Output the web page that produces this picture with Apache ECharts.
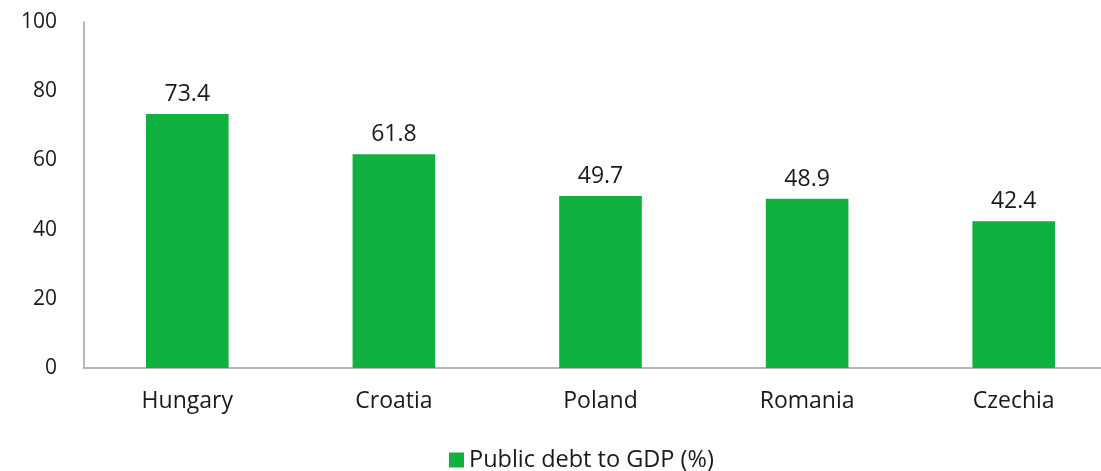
<!DOCTYPE html>
<html>
<head>
<meta charset="utf-8">
<script src="https://cdn.jsdelivr.net/npm/echarts@6/dist/echarts.min.js"></script>
<style>
  html, body { margin: 0; padding: 0; background: #ffffff; overflow: hidden; }
  /* the plot area runs a little past the right edge of the window */
  #chart { width: 1120px; height: 471px; }
</style>
</head>
<body>
<div id="chart"></div>
<script>
// Public debt to GDP, selected Central & Eastern European countries
const countries = ['Hungary', 'Croatia', 'Poland', 'Romania', 'Czechia'];
const debtToGdp = [73.4, 61.8, 49.7, 48.9, 42.4];
const seriesName = 'Public debt to GDP (%)';

const FONT = 'Open Sans';
const GREEN = '#10b13f';
const AXIS_GREY = '#a0a0a0';
const INK = '#1a1a1a';

const chart = echarts.init(document.getElementById('chart'), null, { renderer: 'canvas' });

chart.setOption({
  animation: false,
  backgroundColor: '#ffffff',
  textStyle: { fontFamily: FONT },
  grid: { left: 84, top: 22, width: 1033, height: 346, containLabel: false },
  legend: {
    data: [seriesName],
    left: 444,
    top: 443,
    itemWidth: 15,
    itemHeight: 15,
    icon: 'rect',
    itemGap: 6,
    textStyle: { fontFamily: FONT, fontSize: 23.5, color: INK }
  },
  xAxis: {
    type: 'category',
    data: countries,
    axisLine: { show: true, lineStyle: { color: AXIS_GREY, width: 1.5 } },
    axisTick: { show: false },
    axisLabel: { fontFamily: FONT, fontSize: 23, color: INK, margin: 22 }
  },
  yAxis: {
    type: 'value',
    min: 0,
    max: 100,
    interval: 20,
    axisLine: { show: true, lineStyle: { color: AXIS_GREY, width: 1.5 } },
    axisTick: { show: false },
    splitLine: { show: false },
    axisLabel: { fontFamily: FONT, fontSize: 21, color: INK, margin: 27 }
  },
  series: [{
    name: seriesName,
    type: 'bar',
    data: debtToGdp,
    barWidth: '40%',
    itemStyle: { color: GREEN },
    label: {
      show: true,
      position: 'top',
      distance: 8,
      fontFamily: FONT,
      fontSize: 23,
      color: INK,
      formatter: p => p.value.toFixed(1)
    }
  }]
});
</script>
</body>
</html>
